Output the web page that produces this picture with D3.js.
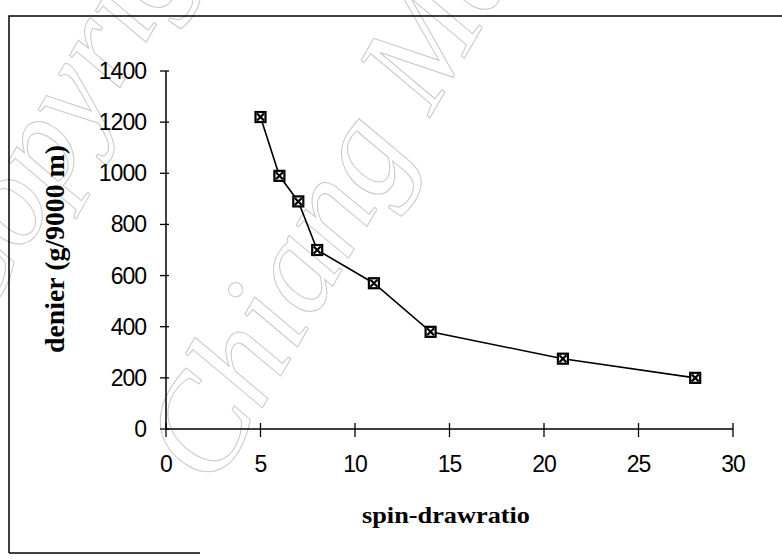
<!DOCTYPE html>
<html>
<head>
<meta charset="utf-8">
<script src="https://cdn.jsdelivr.net/npm/d3@7"></script>
<style>
  body { margin: 0; background: #fff; }
  svg { display: block; }
</style>
</head>
<body>
<svg id="chart" width="782" height="559"></svg>
<script>
// data
const spinDrawRatio = [5, 6, 7, 8, 11, 14, 21, 28];
const denier = [1220, 990, 890, 700, 570, 380, 275, 200];
const xTicks = [0, 5, 10, 15, 20, 25, 30];
const yTicks = [0, 200, 400, 600, 800, 1000, 1200, 1400];

const svg = d3.select("#chart");
const W = 782;

// faint watermark behind everything
const wm = svg.append("g")
  .attr("fill", "none")
  .attr("stroke", "#c8c8c8")
  .attr("stroke-width", 1)
  .attr("font-family", "Liberation Serif, serif")
  .attr("font-style", "italic");
wm.append("text")
  .attr("transform", "translate(215,490) rotate(-60)")
  .attr("font-size", 135)
  .text("Chiang Mai");
wm.append("text")
  .attr("transform", "translate(-20,330) rotate(-60)")
  .attr("font-size", 130)
  .text("Copyright");

// outer frame (partly lost in the scan)
svg.append("path")
  .attr("d", `M9,553 L9,16 L${W},16`)
  .attr("fill", "none")
  .attr("stroke", "#000")
  .attr("stroke-width", 1.5);
svg.append("line")
  .attr("x1", 9).attr("x2", 200)
  .attr("y1", 553).attr("y2", 553)
  .attr("stroke", "#000")
  .attr("stroke-width", 1.5);

// scales
const x = d3.scaleLinear().domain([0, 30]).range([166, 733]);
const y = d3.scaleLinear().domain([0, 1400]).range([429, 71]);

// x axis
const gx = svg.append("g").attr("transform", `translate(0,${y(0)})`);
gx.append("line")
  .attr("x1", x(0)).attr("x2", x(30))
  .attr("stroke", "#000").attr("stroke-width", 1.5);
gx.selectAll(".xt")
  .data(xTicks)
  .enter()
  .append("line")
  .attr("class", "xt")
  .attr("x1", (d) => x(d)).attr("x2", (d) => x(d))
  .attr("y1", -6).attr("y2", 8)
  .attr("stroke", "#000").attr("stroke-width", 1.3);
gx.selectAll(".xl")
  .data(xTicks)
  .enter()
  .append("text")
  .attr("class", "xl")
  .attr("x", (d) => x(d))
  .attr("y", 43)
  .attr("text-anchor", "middle")
  .attr("font-family", "Liberation Sans, Arial, sans-serif")
  .attr("font-size", 23)
  .attr("letter-spacing", -1)
  .text((d) => d);

// y axis
const gy = svg.append("g").attr("transform", `translate(${x(0)},0)`);
gy.append("line")
  .attr("y1", y(0)).attr("y2", y(1400))
  .attr("stroke", "#000").attr("stroke-width", 1.5);
gy.selectAll(".yt")
  .data(yTicks)
  .enter()
  .append("line")
  .attr("class", "yt")
  .attr("y1", (d) => y(d)).attr("y2", (d) => y(d))
  .attr("x1", -6).attr("x2", 3)
  .attr("stroke", "#000").attr("stroke-width", 1.3);
gy.selectAll(".yl")
  .data(yTicks)
  .enter()
  .append("text")
  .attr("class", "yl")
  .attr("x", -20)
  .attr("y", (d) => y(d))
  .attr("dy", "0.35em")
  .attr("text-anchor", "end")
  .attr("font-family", "Liberation Sans, Arial, sans-serif")
  .attr("font-size", 23)
  .attr("letter-spacing", -1)
  .text((d) => d);

// axis titles
svg.append("text")
  .attr("x", 446)
  .attr("y", 523)
  .attr("text-anchor", "middle")
  .attr("font-family", "Liberation Serif, Times New Roman, serif")
  .attr("font-weight", "bold")
  .attr("font-size", 23)
  .attr("textLength", 168)
  .attr("lengthAdjust", "spacingAndGlyphs")
  .text("spin-drawratio");

svg.append("text")
  .attr("transform", "translate(64,249) rotate(-90)")
  .attr("text-anchor", "middle")
  .attr("font-family", "Liberation Serif, Times New Roman, serif")
  .attr("font-weight", "bold")
  .attr("font-size", 28)
  .attr("textLength", 208)
  .attr("lengthAdjust", "spacingAndGlyphs")
  .text("denier (g/9000 m)");

// series line
const pts = spinDrawRatio.map((d, i) => [d, denier[i]]);
svg.append("path")
  .datum(pts)
  .attr("fill", "none")
  .attr("stroke", "#000")
  .attr("stroke-width", 1.6)
  .attr("d", d3.line().x((d) => x(d[0])).y((d) => y(d[1])));

// square markers with a cross inside
const mk = svg.append("g")
  .selectAll(".mk")
  .data(pts)
  .enter()
  .append("g")
  .attr("class", "mk")
  .attr("transform", (d) => `translate(${x(d[0])},${y(d[1])})`);
mk.append("rect")
  .attr("x", -5).attr("y", -5)
  .attr("width", 10).attr("height", 10)
  .attr("fill", "#fff")
  .attr("stroke", "#000")
  .attr("stroke-width", 2.2);
mk.append("path")
  .attr("d", "M-3.5,-3.5L3.5,3.5M3.5,-3.5L-3.5,3.5")
  .attr("stroke", "#000")
  .attr("stroke-width", 2.2);
</script>
</body>
</html>
